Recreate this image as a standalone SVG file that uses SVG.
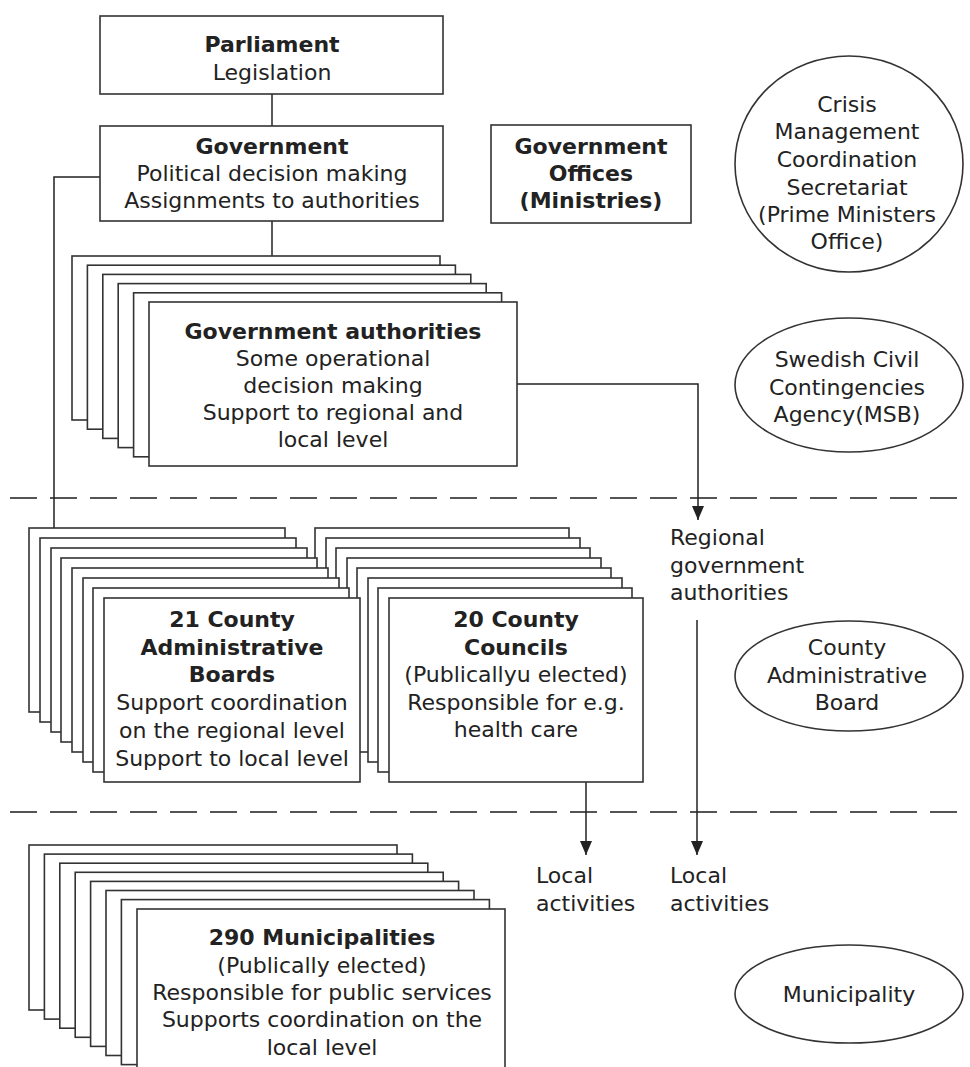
<svg xmlns="http://www.w3.org/2000/svg" width="970" height="1067" viewBox="0 0 970 1067">
<defs>
<marker id="arr" markerWidth="14" markerHeight="12" refX="14" refY="6" orient="auto" markerUnits="userSpaceOnUse" viewBox="0 0 14 12">
<path d="M0,0 L14,6 L0,12 Z" fill="#222"/>
</marker>
<style>
.n rect, .n ellipse { fill: #fff; stroke: #333; stroke-width: 1.6; }
.t { font-family: "DejaVu Sans", Verdana, sans-serif; font-size: 22px; fill: #222; text-anchor: middle; }
.l { font-family: "DejaVu Sans", Verdana, sans-serif; font-size: 22px; fill: #222; }
.b { font-weight: bold; }
.c { fill: none; stroke: #222; stroke-width: 1.5; }
.d { fill: none; stroke: #555; stroke-width: 2; stroke-dasharray: 27 13; }
</style>
</defs>

<g id="dividers">
<line class="d" x1="10" y1="498" x2="970" y2="498"/>
<line class="d" x1="10" y1="812" x2="970" y2="812"/>
</g>

<g id="connectors">
<line class="c" x1="272" y1="94" x2="272" y2="126"/>
<line class="c" x1="272" y1="221" x2="272" y2="256"/>
<polyline class="c" points="100,177 54,177 54,528"/>
<polyline class="c" points="517,384 698,384 698,520" marker-end="url(#arr)"/>
<line class="c" x1="697" y1="620" x2="697" y2="855" marker-end="url(#arr)"/>
<line class="c" x1="586" y1="782" x2="586" y2="855" marker-end="url(#arr)"/>
</g>

<g id="parliament" class="n">
<rect x="100" y="16" width="343" height="78"/>
<text class="t b" x="272" y="52">Parliament</text>
<text class="t" x="272" y="80">Legislation</text>
</g>

<g id="government" class="n">
<rect x="100" y="126" width="343" height="95"/>
<text class="t b" x="272" y="154">Government</text>
<text class="t" x="272" y="181">Political decision making</text>
<text class="t" x="272" y="208">Assignments to authorities</text>
</g>

<g id="government-offices" class="n">
<rect x="491" y="125" width="200" height="98"/>
<text class="t b" x="591" y="154">Government</text>
<text class="t b" x="591" y="181">Offices</text>
<text class="t b" x="591" y="208">(Ministries)</text>
</g>

<g id="crisis-secretariat" class="n">
<ellipse cx="849" cy="164" rx="114" ry="108"/>
<text class="t" x="847" y="112">Crisis</text>
<text class="t" x="847" y="139">Management</text>
<text class="t" x="847" y="167">Coordination</text>
<text class="t" x="847" y="195">Secretariat</text>
<text class="t" x="847" y="222">(Prime Ministers</text>
<text class="t" x="847" y="249">Office)</text>
</g>

<g id="government-authorities" class="n">
<rect x="72" y="256" width="368" height="164"/>
<rect x="87.4" y="265.2" width="368" height="164"/>
<rect x="102.8" y="274.4" width="368" height="164"/>
<rect x="118.2" y="283.6" width="368" height="164"/>
<rect x="133.6" y="292.8" width="368" height="164"/>
<rect x="149" y="302" width="368" height="164"/>
<text class="t b" x="333" y="339">Government authorities</text>
<text class="t" x="333" y="366">Some operational</text>
<text class="t" x="333" y="393">decision making</text>
<text class="t" x="333" y="420">Support to regional and</text>
<text class="t" x="333" y="447">local level</text>
</g>

<g id="msb" class="n">
<ellipse cx="849" cy="385" rx="114" ry="67"/>
<text class="t" x="847" y="367">Swedish Civil</text>
<text class="t" x="847" y="395">Contingencies</text>
<text class="t" x="847" y="422">Agency(MSB)</text>
</g>

<g id="regional-label">
<text class="l" x="670" y="545">Regional</text>
<text class="l" x="670" y="573">government</text>
<text class="l" x="670" y="600">authorities</text>
</g>

<g id="county-councils" class="n">
<rect x="315" y="528" width="254" height="184"/>
<rect x="326" y="538" width="254" height="184"/>
<rect x="336" y="548" width="254" height="184"/>
<rect x="347" y="558" width="254" height="184"/>
<rect x="357" y="568" width="254" height="184"/>
<rect x="368" y="578" width="254" height="184"/>
<rect x="378" y="588" width="254" height="184"/>
<rect x="389" y="598" width="254" height="184"/>
<text class="t b" x="516" y="627">20 County</text>
<text class="t b" x="516" y="655">Councils</text>
<text class="t" x="516" y="682">(Publicallyu elected)</text>
<text class="t" x="516" y="710">Responsible for e.g.</text>
<text class="t" x="516" y="737">health care</text>
</g>

<g id="county-administrative-boards" class="n">
<rect x="29" y="528" width="256" height="184"/>
<rect x="40" y="538" width="256" height="184"/>
<rect x="51" y="548" width="256" height="184"/>
<rect x="61" y="558" width="256" height="184"/>
<rect x="72" y="568" width="256" height="184"/>
<rect x="83" y="578" width="256" height="184"/>
<rect x="93" y="588" width="256" height="184"/>
<rect x="104" y="598" width="256" height="184"/>
<text class="t b" x="232" y="627">21 County</text>
<text class="t b" x="232" y="655">Administrative</text>
<text class="t b" x="232" y="682">Boards</text>
<text class="t" x="232" y="710">Support coordination</text>
<text class="t" x="232" y="738">on the regional level</text>
<text class="t" x="232" y="766">Support to local level</text>
</g>

<g id="county-administrative-board" class="n">
<ellipse cx="849" cy="676" rx="114" ry="55"/>
<text class="t" x="847" y="655">County</text>
<text class="t" x="847" y="683">Administrative</text>
<text class="t" x="847" y="710">Board</text>
</g>

<g id="local-activities-1">
<text class="l" x="536" y="883">Local</text>
<text class="l" x="536" y="911">activities</text>
</g>
<g id="local-activities-2">
<text class="l" x="670" y="883">Local</text>
<text class="l" x="670" y="911">activities</text>
</g>

<g id="municipalities" class="n">
<rect x="29" y="845" width="368" height="165"/>
<rect x="44.4" y="854.1" width="368" height="165"/>
<rect x="59.8" y="863.2" width="368" height="165"/>
<rect x="75.2" y="872.3" width="368" height="165"/>
<rect x="90.6" y="881.4" width="368" height="165"/>
<rect x="106" y="890.5" width="368" height="165"/>
<rect x="121.4" y="899.6" width="368" height="165"/>
<rect x="137" y="909" width="368" height="165"/>
<text class="t b" x="322" y="945">290 Municipalities</text>
<text class="t" x="322" y="973">(Publically elected)</text>
<text class="t" x="322" y="1000">Responsible for public services</text>
<text class="t" x="322" y="1027">Supports coordination on the</text>
<text class="t" x="322" y="1055">local level</text>
</g>

<g id="municipality" class="n">
<ellipse cx="849" cy="994" rx="114" ry="49"/>
<text class="t" x="849" y="1002">Municipality</text>
</g>
</svg>
